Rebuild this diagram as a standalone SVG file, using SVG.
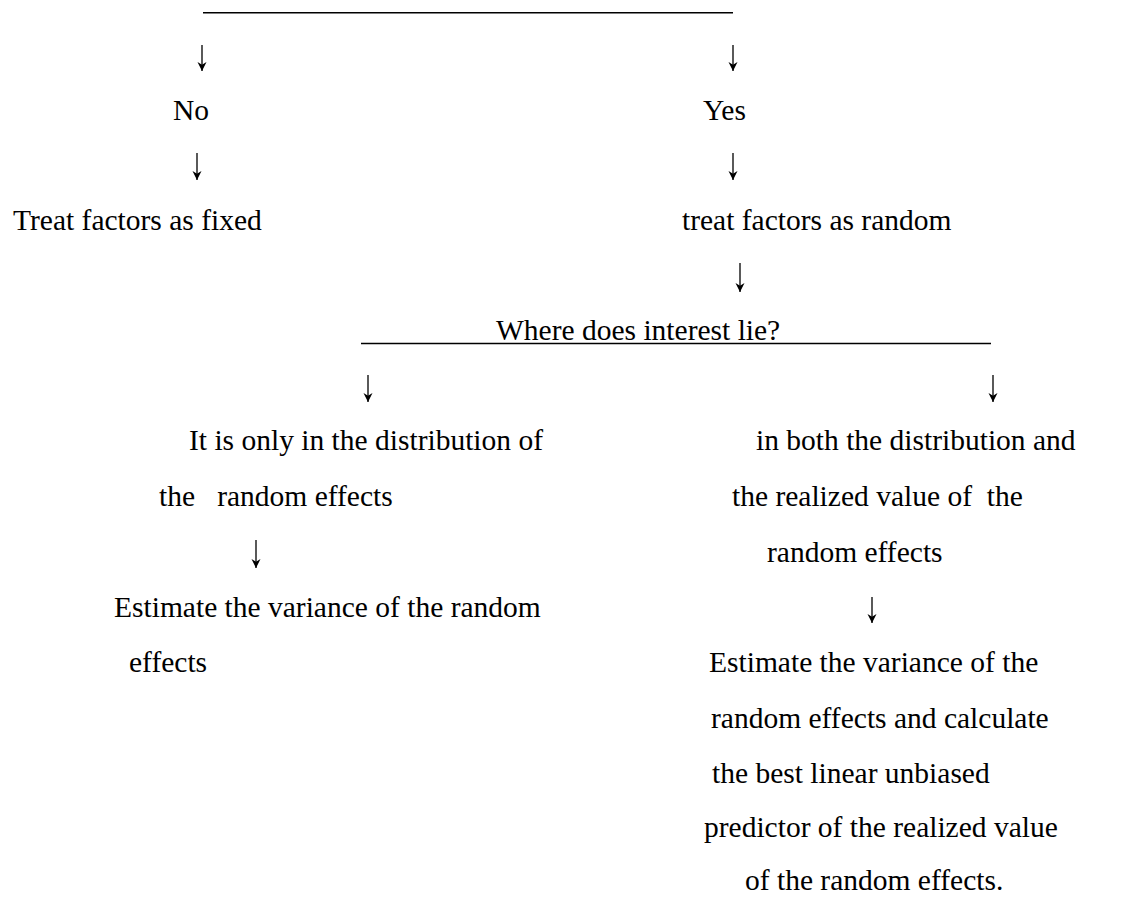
<svg xmlns="http://www.w3.org/2000/svg" width="1121" height="897" viewBox="0 0 1121 897">
<style>
text{font-family:"Liberation Serif","Times New Roman",serif;font-size:29.5px;fill:#000}
.rule{stroke:#000;stroke-width:1.4;fill:none}
.arr{stroke:#000;stroke-width:1.3;fill:none;marker-end:url(#ah)}
</style>
<defs>
<marker id="ah" viewBox="0 0 10 10" refX="10" refY="5" markerUnits="userSpaceOnUse" markerWidth="9" markerHeight="10" orient="auto">
<path d="M0,0 L10,5 L0,10 L3,5 Z" fill="#000"/>
</marker>
</defs>
<rect width="1121" height="897" fill="#fff"/>
<g id="connectors">
<line class="rule" x1="203" y1="12.7" x2="733" y2="12.7"/>
<line class="rule" x1="361" y1="343.5" x2="991" y2="343.5"/>
<line class="arr" x1="202" y1="45" x2="202" y2="71"/>
<line class="arr" x1="733" y1="45" x2="733" y2="71"/>
<line class="arr" x1="197" y1="153" x2="197" y2="180"/>
<line class="arr" x1="733" y1="153" x2="733" y2="180"/>
<line class="arr" x1="740" y1="263" x2="740" y2="292"/>
<line class="arr" x1="368" y1="375" x2="368" y2="402"/>
<line class="arr" x1="993" y1="375" x2="993" y2="402"/>
<line class="arr" x1="256" y1="540" x2="256" y2="568"/>
<line class="arr" x1="872" y1="597" x2="872" y2="623"/>
</g>
<g id="no"><text x="173" y="120">No</text></g>
<g id="yes"><text x="703" y="120">Yes</text></g>
<g id="fixed"><text x="13" y="230">Treat factors as fixed</text></g>
<g id="random"><text x="682" y="230">treat factors as random</text></g>
<g id="interest"><text x="496" y="340">Where does interest lie?</text></g>
<g id="only-distribution">
<text x="189" y="450">It is only in the distribution of</text>
<text x="159" y="506" xml:space="preserve">the   random effects</text>
</g>
<g id="both">
<text x="756" y="450">in both the distribution and</text>
<text x="732" y="506" xml:space="preserve">the realized value of  the</text>
<text x="767" y="562">random effects</text>
</g>
<g id="estimate-variance">
<text x="114" y="617">Estimate the variance of the random</text>
<text x="129" y="672">effects</text>
</g>
<g id="estimate-blup">
<text x="709" y="672">Estimate the variance of the</text>
<text x="711" y="728">random effects and calculate</text>
<text x="712" y="783">the best linear unbiased</text>
<text x="704" y="837">predictor of the realized value</text>
<text x="745" y="890">of the random effects.</text>
</g>
</svg>
